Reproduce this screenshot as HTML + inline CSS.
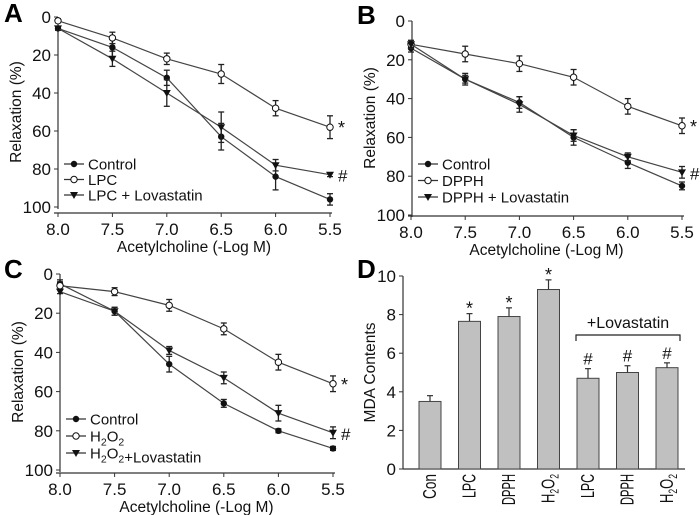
<!DOCTYPE html>
<html><head><meta charset="utf-8"><style>
body{margin:0;background:#fff}
svg{display:block;font-family:"Liberation Sans",Arial,sans-serif}
</style></head><body>
<svg id="fig" width="700" height="515" viewBox="0 0 700 515"></svg>
<script>
const xTicks=["8.0","7.5","7.0","6.5","6.0","5.5"];
const yTicks=[0,20,40,60,80,100];
const aControl=[6,16,32,63,84,96], aControlErr=[1,5,4,7,7,3];
const aLPC=[2,11,22,30,48,58], aLPCErr=[1,3,3,5,4,6];
const aLova=[6,22,40,58,78,83], aLovaErr=[1,4,7,8,3,1];
const bControl=[14,30,42,60,73,85], bControlErr=[2,3,3,4,3,2];
const bDPPH=[12,17,22,29,44,54], bDPPHErr=[2,4,4,4,4,4];
const bLova=[12,30,43,59,70,78], bLovaErr=[2,2,4,3,2,3];
const cControl=[5,19,46,66,80,89], cControlErr=[2,2,4,2,1,1];
const cH2O2=[6,9,16,28,45,56], cH2O2Err=[2,2,3,3,4,4];
const cLova=[9,19,39,53,71,81], cLovaErr=[1,2,2,3,4,3];
const dCats=["Con","LPC","DPPH","H2O2","LPC","DPPH","H2O2"];
const dVals=[3.5,7.65,7.9,9.3,4.7,5.0,5.25];
const dErr=[0.3,0.4,0.45,0.5,0.5,0.35,0.25];
const dMarks=["","*","*","*","#","#","#"];
const dTicks=[0,2,4,6,8,10];

const NS="http://www.w3.org/2000/svg";
const svg=document.getElementById('fig');
function el(tag,attrs,parent,text){const e=document.createElementNS(NS,tag);for(const k in attrs)e.setAttribute(k,attrs[k]);if(text!==undefined)e.textContent=text;(parent||svg).appendChild(e);return e;}
const C="#333";

function linePanel(p){
  const g=el('g',{});
  
  
  const sx=i=>p.x0+(p.x1-p.x0)*i/5;
  const sy=v=>p.y0+(p.y1-p.y0)*v/100;
  const lab=el('text',{x:p.lx,y:p.ly,'font-size':26,'font-weight':'bold',fill:'#000'},g,p.letter);
  
  const ya=el('line',{x1:p.ax,y1:p.y0,x2:p.ax,y2:p.y1+2,stroke:C,'stroke-width':1.2},g);
  
  const xa=el('line',{x1:p.ax-4,y1:p.axy,x2:p.x1+2,y2:p.axy,stroke:C,'stroke-width':1.2},g);
  
  yTicks.forEach(v=>{
    el('line',{x1:p.ax-4,y1:sy(v),x2:p.ax,y2:sy(v),stroke:C},g);
    const t=el('text',{x:p.ax-7,y:sy(v)+6,'font-size':17,'text-anchor':'end',fill:'#111'},g,v);
    
  });
  xTicks.forEach((s,i)=>{
    el('line',{x1:sx(i),y1:p.axy,x2:sx(i),y2:p.axy+4,stroke:C},g);
    const t=el('text',{x:sx(i),y:p.axy+22,'font-size':17,'text-anchor':'middle',fill:'#111'},g,s);
    
  });
  const xt=el('text',{x:(p.x0+p.x1)/2,y:p.axy+39,'font-size':15.5,'text-anchor':'middle',fill:'#111'},g,'Acetylcholine (-Log M)');
  
  const cy=(p.y0+p.y1)/2;
  const yt=el('text',{x:0,y:0,'font-size':15.5,'text-anchor':'middle',fill:'#111',transform:`translate(${p.ax-37},${cy}) rotate(-90)`},g,'Relaxation (%)');
  
  p.series.forEach(s=>{
    const sg=el('g',{},g);
    
    el('polyline',{points:s.v.map((v,i)=>sx(i)+','+sy(v)).join(' '),fill:'none',stroke:'#444','stroke-width':1.2},sg);
    s.v.forEach((v,i)=>{
      const x=sx(i),y1=sy(v-s.e[i]),y2=sy(v+s.e[i]);
      el('line',{x1:x,y1:y1,x2:x,y2:y2,stroke:'#222','stroke-width':1.3},sg);
      el('line',{x1:x-3,y1:y1,x2:x+3,y2:y1,stroke:'#222','stroke-width':1.3},sg);
      el('line',{x1:x-3,y1:y2,x2:x+3,y2:y2,stroke:'#222','stroke-width':1.3},sg);
      marker(sg,s.m,x,sy(v));
    });
  });
  p.marks.forEach(m=>{el('text',{x:p.x1+8,y:sy(m[1])+7,'font-size':m[0]=='*'?18:17,fill:'#111'},g,m[0]);});
  p.legend.forEach((l,i)=>{
    const y=p.legY+i*p.legDy;
    const lg=el('g',{},g);
    
    el('line',{x1:p.ax+6,y1:y,x2:p.ax+26,y2:y,stroke:'#333','stroke-width':1.2},lg);
    marker(lg,l[0],p.ax+16,y);
    const t=el('text',{x:p.ax+30,y:y+5.5,'font-size':15,fill:'#111'},lg);
    t.innerHTML=l[1];
  });
  return g;
}
function marker(g,m,x,y){
  if(m=='f')el('circle',{cx:x,cy:y,r:3.2,fill:'#111'},g);
  else if(m=='o')el('circle',{cx:x,cy:y,r:3.2,fill:'#fff',stroke:'#111','stroke-width':1},g);
  else el('polygon',{points:`${x-4},${y-3} ${x+4},${y-3} ${x},${y+4}`,fill:'#111'},g);
}
const h2='H<tspan font-size="10.5" dy="4">2</tspan><tspan dy="-4">O</tspan><tspan font-size="10.5" dy="4">2</tspan>';
linePanel({name:'panel-a',letter:'A',lx:4,ly:22,ax:58,x0:58,x1:330,y0:17,y1:207,axy:213,legY:164,legDy:15.5,
  series:[{key:'control',v:aControl,e:aControlErr,m:'f'},{key:'lpc',v:aLPC,e:aLPCErr,m:'o'},{key:'lpc-lovastatin',v:aLova,e:aLovaErr,m:'t'}],
  marks:[['*',aLPC[5]],['#',aLova[5]]],
  legend:[['f','Control'],['o','LPC'],['t','LPC + Lovastatin']]});
linePanel({name:'panel-b',letter:'B',lx:357,ly:24,ax:412,x0:411,x1:682,y0:21,y1:215,axy:216,legY:164,legDy:16.5,
  series:[{key:'control',v:bControl,e:bControlErr,m:'f'},{key:'dpph',v:bDPPH,e:bDPPHErr,m:'o'},{key:'dpph-lovastatin',v:bLova,e:bLovaErr,m:'t'}],
  marks:[['*',bDPPH[5]],['#',bLova[5]]],
  legend:[['f','Control'],['o','DPPH'],['t','DPPH + Lovastatin']]});
linePanel({name:'panel-c',letter:'C',lx:4,ly:278,ax:60,x0:60,x1:333,y0:274,y1:470,axy:473,legY:419,legDy:17,
  series:[{key:'control',v:cControl,e:cControlErr,m:'f'},{key:'h2o2',v:cH2O2,e:cH2O2Err,m:'o'},{key:'h2o2-lovastatin',v:cLova,e:cLovaErr,m:'t'}],
  marks:[['*',cH2O2[5]],['#',cLova[5]]],
  legend:[['f','Control'],['o',h2],['t',h2+'+Lovastatin']]});

(function(){
  const g=el('g',{});
  
  const ax=403,y0=469,y10=276,x1=685;
  const sy=v=>y0+(y10-y0)*v/10;
  const bx=i=>430+i*39.5;
  const lab=el('text',{x:357,y:278,'font-size':26,'font-weight':'bold',fill:'#000'},g,'D');
  
  el('line',{x1:ax,y1:y10,x2:ax,y2:y0,stroke:C,'stroke-width':1.2},g);
  const xa=el('line',{x1:ax,y1:y0,x2:x1,y2:y0,stroke:C,'stroke-width':1.2},g);
  
  dTicks.forEach(v=>{
    el('line',{x1:ax-4,y1:sy(v),x2:ax,y2:sy(v),stroke:C},g);
    const t=el('text',{x:ax-7,y:sy(v)+6,'font-size':17,'text-anchor':'end',fill:'#111'},g,v);
    
  });
  const yt=el('text',{x:0,y:0,'font-size':15.5,'text-anchor':'middle',fill:'#111',transform:`translate(${ax-28},${(y0+y10)/2}) rotate(-90)`},g,'MDA Contents');
  
  const lens={"Con":25,"LPC":24,"DPPH":31,"H2O2":29};
  dVals.forEach((v,i)=>{
    const x=bx(i),w=22;
    const b=el('rect',{x:x-w/2,y:sy(v),width:w,height:y0-sy(v),fill:'#c0c0c0',stroke:'#444','stroke-width':1},g);
    
    const ye=sy(v+dErr[i]);
    el('line',{x1:x,y1:sy(v),x2:x,y2:ye,stroke:'#333','stroke-width':1.2},g);
    el('line',{x1:x-3,y1:ye,x2:x+3,y2:ye,stroke:'#333','stroke-width':1.2},g);
    if(dMarks[i])el('text',{x:x,y:ye-(dMarks[i]=='*'?-1:4),'font-size':dMarks[i]=='*'?18:17,'text-anchor':'middle',fill:'#111'},g,dMarks[i]);
    const ty=y0+5+lens[dCats[i]];
    const t=el('text',{x:0,y:0,'font-size':18,fill:'#111',transform:`translate(${x+6},${ty}) rotate(-90)`},g);
    
    if(dCats[i]=='H2O2')t.innerHTML='H<tspan font-size="12" dy="4">2</tspan><tspan dy="-4">O</tspan><tspan font-size="12" dy="4">2</tspan>';
    else t.textContent=dCats[i];
    t.setAttribute('textLength',lens[dCats[i]]);t.setAttribute('lengthAdjust','spacingAndGlyphs');
  });
  const br=el('path',{d:'M576,341 V335 H680 V341',fill:'none',stroke:'#222','stroke-width':1.2},g);
  
  const bt=el('text',{x:628,y:328,'font-size':16,'text-anchor':'middle',fill:'#111'},g,'+Lovastatin');
  
})();
</script>
</body></html>
